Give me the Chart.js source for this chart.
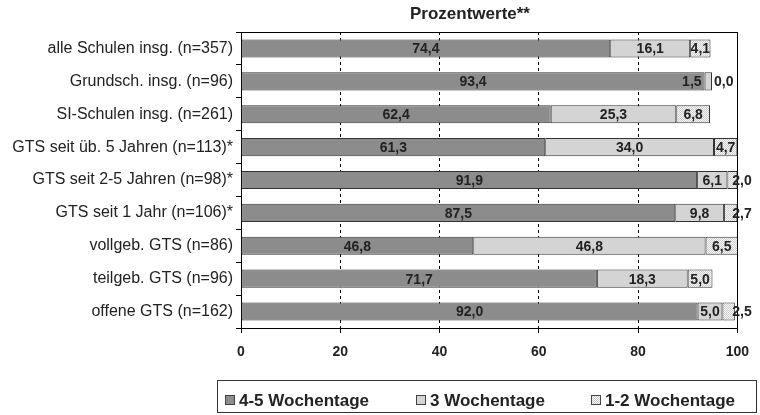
<!DOCTYPE html>
<html>
<head>
<meta charset="utf-8">
<script src="https://cdn.jsdelivr.net/npm/chart.js@4/dist/chart.umd.min.js"></script>
<style>
  html, body { margin: 0; padding: 0; background: #fff; }
  #wrap { width: 760px; height: 415px; }
</style>
</head>
<body>
<div id="wrap"><canvas id="chart" width="760" height="415"></canvas></div>
<script>
// Kategorien und Werte (Prozent)
const categories = [
    'alle Schulen insg. (n=357)',
    'Grundsch. insg. (n=96)',
    'SI-Schulen insg. (n=261)',
    'GTS seit üb. 5 Jahren (n=113)*',
    'GTS seit 2-5 Jahren (n=98)*',
    'GTS seit 1 Jahr (n=106)*',
    'vollgeb. GTS (n=86)',
    'teilgeb. GTS (n=96)',
    'offene GTS (n=162)'
];
const tage45 = [74.4, 93.4, 62.4, 61.3, 91.9, 87.5, 46.8, 71.7, 92.0];
const tage3 = [16.1, 1.5, 25.3, 34.0, 6.1, 9.8, 46.8, 18.3, 5.0];
const tage12 = [4.1, 0.0, 6.8, 4.7, 2.0, 2.7, 6.5, 5.0, 2.5];
const seriesNames = ['4-5 Wochentage', '3 Wochentage', '1-2 Wochentage'];
const xTicks = [0, 20, 40, 60, 80, 100];
const titleText = 'Prozentwerte**';

const FONT = "'Liberation Sans', Arial, sans-serif";
const TEXT = '#222';

// Punktraster für "1-2 Wochentage"
function makeHatch() {
    const c = document.createElement('canvas');
    c.width = 4; c.height = 4;
    const g = c.getContext('2d');
    for (let y = 0; y < 4; y++) {
        for (let x = 0; x < 4; x++) {
            g.fillStyle = (x + y) % 2 === 0 ? '#cdcdcd' : '#f7f7f7';
            g.fillRect(x, y, 1, 1);
        }
    }
    return g.createPattern(c, 'repeat');
}
const ctx = document.getElementById('chart').getContext('2d');
const hatch = makeHatch();
const fills = ['#8c8c8c', '#d4d4d4', hatch];

const fmt = v => v.toFixed(1).replace('.', ',');

// Beschriftungen, Rahmen, Titel und Legende
const extras = {
    id: 'extras',
    beforeDatasetsDraw(chart) {
        const a = chart.chartArea, c = chart.ctx;
        c.save();
        c.strokeStyle = '#000';
        c.lineWidth = 1;
        c.strokeRect(Math.round(a.left) + 0.5, Math.round(a.top) + 0.5,
            Math.round(a.right - a.left), Math.round(a.bottom - a.top));
        c.restore();
    },
    afterDatasetsDraw(chart) {
        const c = chart.ctx;
        c.save();
        c.font = 'bold 14px ' + FONT;
        c.fillStyle = TEXT;
        c.textBaseline = 'middle';
        chart.data.datasets.forEach((ds, di) => {
            const meta = chart.getDatasetMeta(di);
            meta.data.forEach((bar, i) => {
                const p = bar.getProps(['x', 'base', 'y'], true);
                const txt = fmt(ds.data[i]);
                const tw = c.measureText(txt).width;
                const w = p.x - p.base;
                if (tw <= w + 1) {
                    c.textAlign = 'center';
                    c.fillText(txt, (p.x + p.base) / 2, p.y + 1);
                } else if (di === 1) {
                    c.textAlign = 'right';
                    c.fillText(txt, p.base - 3, p.y + 1);
                } else {
                    c.textAlign = 'left';
                    c.fillText(txt, Math.min(p.x + 2, chart.chartArea.right - 5), p.y + 1);
                }
            });
        });
        c.restore();
    },
    afterDraw(chart) {
        const c = chart.ctx;
        c.save();
        // Titel
        c.font = 'bold 17px ' + FONT;
        c.fillStyle = TEXT;
        c.textAlign = 'center';
        c.textBaseline = 'middle';
        c.fillText(titleText, 470, 14);
        // Legende
        c.strokeStyle = '#333';
        c.lineWidth = 1;
        c.strokeRect(217.5, 380.5, 539, 32);
        const pos = [225, 416, 591];
        c.font = 'bold 17px ' + FONT;
        c.textAlign = 'left';
        chart.data.datasets.forEach((ds, di) => {
            const x = pos[di];
            c.fillStyle = ds.backgroundColor;
            c.fillRect(x, 395, 10, 10);
            c.strokeStyle = '#444';
            c.strokeRect(x + 0.5, 395.5, 9, 9);
            c.fillStyle = TEXT;
            c.fillText(ds.label, x + 14, 401);
        });
        c.restore();
    }
};

new Chart(ctx, {
    type: 'bar',
    data: {
        labels: categories,
        datasets: [tage45, tage3, tage12].map((vals, i) => ({
            label: seriesNames[i],
            data: vals,
            backgroundColor: fills[i],
            borderColor: '#333',
            borderWidth: 1,
            borderSkipped: false,
            categoryPercentage: 1,
            barPercentage: 0.55
        }))
    },
    options: {
        indexAxis: 'y',
        responsive: false,
        animation: false,
        layout: { padding: { top: 32, right: 22, bottom: 57, left: 0 } },
        plugins: {
            legend: { display: false },
            title: { display: false },
            tooltip: { enabled: false }
        },
        scales: {
            x: {
                stacked: true,
                min: 0,
                max: 100,
                afterBuildTicks: s => { s.ticks = xTicks.map(v => ({ value: v })); },
                afterFit: s => { s.height = 30; },
                grid: {
                    color: c => (c.tick && (c.tick.value === 0 || c.tick.value === 100)) ? 'rgba(0,0,0,0)' : '#000',
                    tickColor: '#000',
                    tickLength: 5,
                    lineWidth: 1
                },
                border: { display: true, color: '#000', dash: [3, 3] },
                ticks: {
                    color: TEXT,
                    padding: 11,
                    font: { family: FONT, size: 14, weight: 'bold' }
                }
            },
            y: {
                stacked: true,
                afterFit: s => { s.width = 241; },
                grid: {
                    drawOnChartArea: false,
                    tickColor: '#000',
                    tickLength: 5
                },
                border: { display: true, color: '#000' },
                ticks: {
                    color: TEXT,
                    padding: 3,
                    font: { family: FONT, size: 16 }
                }
            }
        }
    },
    plugins: [extras]
});
</script>
</body>
</html>
